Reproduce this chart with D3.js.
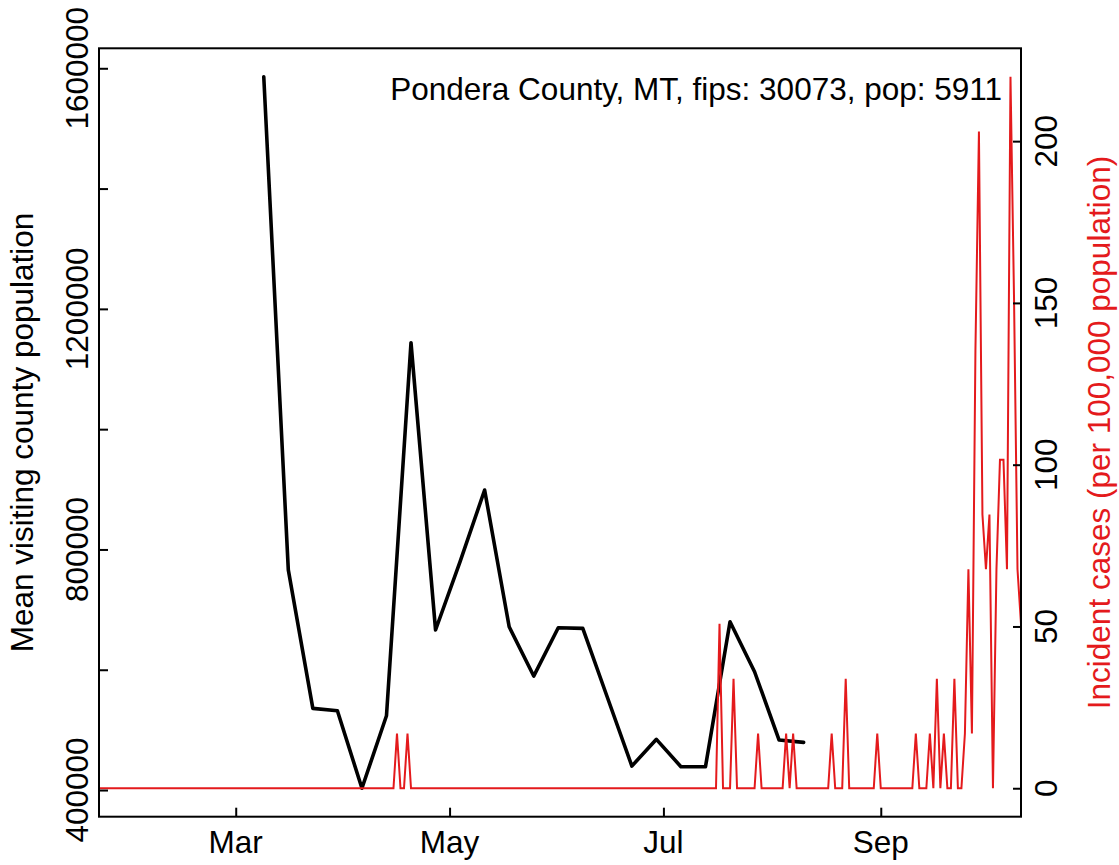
<!DOCTYPE html>
<html>
<head>
<meta charset="utf-8">
<script src="https://cdn.jsdelivr.net/npm/d3@7"></script>
<style>
  html, body { margin: 0; padding: 0; background: #fff; }
  svg text { font-family: "Liberation Sans", Arial, Helvetica, sans-serif; }
</style>
</head>
<body>
<svg id="chart" width="1119" height="865"></svg>
<script>
// ---------------- DATA ----------------
const titleText = "Pondera County, MT, fips: 30073, pop: 5911";
const leftTitle = "Mean visiting county population";
const rightTitle = "Incident cases (per 100,000 population)";

// Weekly mean visiting county population (black line)
const visitDates = ["2020-03-09","2020-03-16","2020-03-23","2020-03-30","2020-04-06","2020-04-13",
  "2020-04-20","2020-04-27","2020-05-04","2020-05-11","2020-05-18","2020-05-25","2020-06-01",
  "2020-06-08","2020-06-15","2020-06-22","2020-06-29","2020-07-06","2020-07-13","2020-07-20",
  "2020-07-27","2020-08-03","2020-08-10"];
const visitValues = [1585900, 766000, 535800, 531800, 403000, 523500,
  1143700, 666100, 779600, 898800, 671500, 589500, 669800,
  668800, 554300, 439900, 484300, 438800, 438800, 679800,
  596700, 483100, 479300];

// Daily incident cases per 100,000 (red line), first day 2020-01-22
const caseStartDate = "2020-01-22";
const incJan = [0,0,0,0,0,0,0,0,0,0];
const incFeb = [0,0,0,0,0,0,0,0,0,0, 0,0,0,0,0,0,0,0,0,0, 0,0,0,0,0,0,0,0,0];
const incMar = [0,0,0,0,0,0,0,0,0,0, 0,0,0,0,0,0,0,0,0,0, 0,0,0,0,0,0,0,0,0,0, 0];
const incApr = [0,0,0,0,0,0,0,0,0,0, 0,0,0,0,0,16.9,0,0,16.9,0, 0,0,0,0,0,0,0,0,0,0];
const incMay = [0,0,0,0,0,0,0,0,0,0, 0,0,0,0,0,0,0,0,0,0, 0,0,0,0,0,0,0,0,0,0, 0];
const incJun = [0,0,0,0,0,0,0,0,0,0, 0,0,0,0,0,0,0,0,0,0, 0,0,0,0,0,0,0,0,0,0];
const incJul = [0,0,0,0,0,0,0,0,0,0, 0,0,0,0,0,0,50.8,0,0,0, 33.8,0,0,0,0,0,0,16.9,0,0, 0];
const incAug = [0,0,0,0,16.9,0,16.9,0,0,0, 0,0,0,0,0,0,0,16.9,0,0, 0,33.8,0,0,0,0,0,0,0,0, 16.9];
const incSep = [0,0,0,0,0,0,0,0,0,0, 16.9,0,0,0,16.9,0,33.8,0,16.9,0, 0,33.8,0,0,16.9,67.7,16.9,135.3,203.0,84.6];
const incOct = [67.7,84.6,0,67.7,101.5,101.5,67.7,219.9,152.3,67.7,50.8];

const monthTicks = ["2020-03-01","2020-05-01","2020-07-01","2020-09-01"];
const monthLabels = ["Mar","May","Jul","Sep"];
const leftTicks = [400000, 600000, 800000, 1000000, 1200000, 1400000, 1600000];
const leftLabelTicks = [400000, 800000, 1200000, 1600000];
const rightTicks = [0, 50, 100, 150, 200];
const xDomain = ["2020-01-22","2020-10-11"];

// ---------------- LAYOUT ----------------
const box = {left: 99, right: 1021, top: 48.3, bottom: 816.7};
const red = "#e41a1c";
const fs = 31.5;

const parse = d3.utcParse("%Y-%m-%d");
const incidence = [].concat(incJan, incFeb, incMar, incApr, incMay, incJun, incJul, incAug, incSep, incOct);
const start = parse(caseStartDate);
const caseData = incidence.map((v, i) => ({date: d3.utcDay.offset(start, i), value: v}));
const visitData = visitDates.map((d, i) => ({date: parse(d), value: visitValues[i]}));

const svg = d3.select("#chart");

const x = d3.scaleUtc().domain(xDomain.map(parse)).range([box.left, box.right]);

function padded(ext) { const r = ext[1] - ext[0]; return [ext[0] - 0.04 * r, ext[1] + 0.04 * r]; }
const yL = d3.scaleLinear().domain(padded(d3.extent(visitValues))).range([box.bottom, box.top]);
const yR = d3.scaleLinear().domain(padded(d3.extent(incidence))).range([box.bottom, box.top]);

svg.append("defs").append("clipPath").attr("id", "clip")
  .append("rect").attr("x", box.left).attr("y", box.top)
  .attr("width", box.right - box.left).attr("height", box.bottom - box.top);

const plot = svg.append("g").attr("clip-path", "url(#clip)");

// black line
plot.append("path").datum(visitData)
  .attr("fill", "none").attr("stroke", "#000").attr("stroke-width", 3.6)
  .attr("stroke-linejoin", "round").attr("stroke-linecap", "round")
  .attr("d", d3.line().x(d => x(d.date)).y(d => yL(d.value)));

// red line
plot.append("path").datum(caseData)
  .attr("fill", "none").attr("stroke", red).attr("stroke-width", 2)
  .attr("stroke-linejoin", "miter")
  .attr("d", d3.line().x(d => x(d.date)).y(d => yR(d.value)));

// box
svg.append("rect").attr("x", box.left).attr("y", box.top)
  .attr("width", box.right - box.left).attr("height", box.bottom - box.top)
  .attr("fill", "none").attr("stroke", "#000").attr("stroke-width", 2);

// left axis (inward ticks)
const gL = svg.append("g").attr("transform", `translate(${box.left},0)`)
  .call(d3.axisRight(yL).tickValues(leftTicks).tickSize(9).tickFormat(""));
gL.select(".domain").remove();
gL.selectAll("line").attr("stroke", "#000").attr("stroke-width", 2);
leftLabelTicks.forEach(t => {
  svg.append("text").attr("transform", `translate(87.5,${yL(t)}) rotate(-90)`)
    .attr("text-anchor", "middle").attr("font-size", fs).attr("fill", "#000").text(t);
});

// right axis (inward ticks)
const gR = svg.append("g").attr("transform", `translate(${box.right},0)`)
  .call(d3.axisLeft(yR).tickValues(rightTicks).tickSize(8).tickFormat(""));
gR.select(".domain").remove();
gR.selectAll("line").attr("stroke", "#000").attr("stroke-width", 2);
rightTicks.forEach(t => {
  svg.append("text").attr("transform", `translate(1056.5,${yR(t)}) rotate(-90)`)
    .attr("text-anchor", "middle").attr("font-size", fs).attr("fill", "#000").text(t);
});

// bottom axis (inward ticks)
const tickDates = monthTicks.map(parse);
const gB = svg.append("g").attr("transform", `translate(0,${box.bottom})`)
  .call(d3.axisTop(x).tickValues(tickDates).tickSize(9).tickFormat(""));
gB.select(".domain").remove();
gB.selectAll("line").attr("stroke", "#000").attr("stroke-width", 2);
tickDates.forEach((d, i) => {
  svg.append("text").attr("x", x(d)).attr("y", 853)
    .attr("text-anchor", "middle").attr("font-size", fs).attr("fill", "#000").text(monthLabels[i]);
});

// axis titles
svg.append("text").attr("transform", `translate(33,${(box.top + box.bottom) / 2}) rotate(-90)`)
  .attr("text-anchor", "middle").attr("font-size", fs).attr("fill", "#000").text(leftTitle);
svg.append("text").attr("transform", `translate(1110,${(box.top + box.bottom) / 2}) rotate(-90)`)
  .attr("text-anchor", "middle").attr("font-size", fs).attr("fill", red).text(rightTitle);

// title inside plot
svg.append("text").attr("x", 1002).attr("y", 100)
  .attr("text-anchor", "end").attr("font-size", fs).attr("fill", "#000").text(titleText);
</script>
</body>
</html>
